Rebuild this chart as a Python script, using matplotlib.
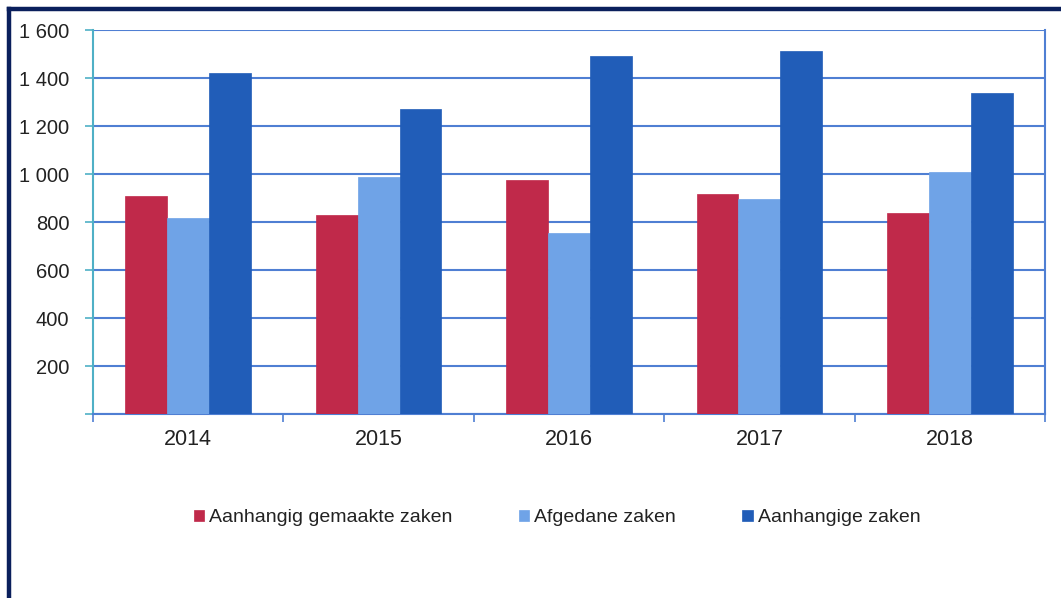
import matplotlib
matplotlib.use("Agg")
import matplotlib.pyplot as plt
import numpy as np
from matplotlib.lines import Line2D
from matplotlib.ticker import FuncFormatter

years = ["2014", "2015", "2016", "2017", "2018"]
aanhangig_gemaakt = [908, 828, 975, 915, 836]
afgedaan = [815, 989, 755, 895, 1008]
aanhangig = [1422, 1271, 1492, 1512, 1337]
series_names = ["Aanhangig gemaakte zaken", "Afgedane zaken", "Aanhangige zaken"]
colors = ["#C0294A", "#6FA3E7", "#215DB8"]

plt.rcParams['font.family'] = ['Liberation Sans', 'DejaVu Sans']

fig = plt.figure(figsize=(10.61, 5.98), dpi=100)
W, H = 1061, 598
x0, x1, y0, y1 = 93, 1045, 414, 30
ax = fig.add_axes([x0 / W, 1 - y0 / H, (x1 - x0) / W, (y0 - y1) / H])

x = np.arange(len(years))
bw = 0.22
for i, (vals, c, name) in enumerate(zip([aanhangig_gemaakt, afgedaan, aanhangig], colors, series_names)):
    ax.bar(x + (i - 1) * bw, vals, bw, color=c, label=name, zorder=3,
           edgecolor=c, linewidth=0.5)

ax.set_xlim(-0.5, len(years) - 0.5)
ax.set_ylim(0, 1600)
ax.set_yticks(np.arange(0, 1601, 200))
ax.yaxis.set_major_formatter(FuncFormatter(lambda v, p: "" if v == 0 else f"{int(v):,}".replace(",", " ")))
ax.yaxis.grid(True, color="#4F7FD3", linewidth=1.5, zorder=0)
ax.set_axisbelow(True)

ax.set_xticks(x)
ax.set_xticklabels(years)
ax.set_xticks(np.arange(-0.5, len(years), 1), minor=True)
ax.tick_params(axis='x', which='major', length=0, pad=11, labelsize=15.5, colors="#222222")
ax.tick_params(axis='x', which='minor', length=6, color="#4F7FD3", width=1.2, direction='out')
ax.tick_params(axis='y', length=6, width=1.2, labelsize=14.5, pad=11)
ax.tick_params(axis='y', colors="#4FB0C6", labelcolor="#222222")

ax.spines["top"].set_visible(False)
ax.spines["right"].set_color("#4F7FD3")
ax.spines["right"].set_linewidth(1.5)
ax.spines["left"].set_color("#4FB0C6")
ax.spines["left"].set_linewidth(1.5)
ax.spines["bottom"].set_color("#4F7FD3")
ax.spines["bottom"].set_linewidth(1.5)

leg = fig.legend(loc="center", bbox_to_anchor=(557 / W, 1 - 518 / H), ncol=3, frameon=False,
                 handlelength=0.55, handleheight=0.55, handletextpad=0.25, columnspacing=3.4,
                 fontsize=14)
for t in leg.get_texts():
    t.set_color("#222222")

# navy frame on top and left
navy = "#0A1F5C"
fig.add_artist(Line2D([8.5 / W, 1.0], [1 - 8.5 / H, 1 - 8.5 / H], color=navy, linewidth=3.2, transform=fig.transFigure))
fig.add_artist(Line2D([8.5 / W, 8.5 / W], [0, 1 - 8.5 / H], color=navy, linewidth=3.2, transform=fig.transFigure))

fig.savefig("out.png", dpi=100)
